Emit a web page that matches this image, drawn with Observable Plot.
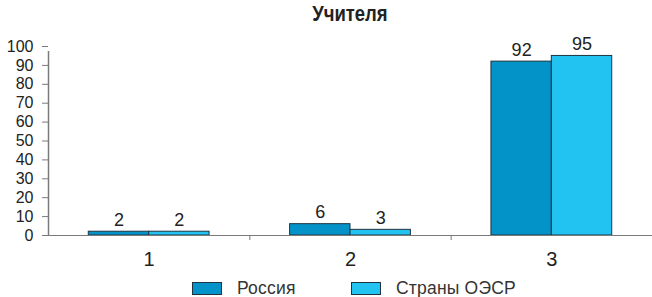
<!DOCTYPE html>
<html>
<head>
<meta charset="utf-8">
<script src="https://cdn.jsdelivr.net/npm/d3@7"></script>
<script src="https://cdn.jsdelivr.net/npm/@observablehq/plot@0.6"></script>
<style>
  html, body { margin: 0; padding: 0; background: #fff; }
  #wrap { position: relative; width: 652px; height: 297px; overflow: hidden; font-family: "Liberation Sans", Arial, sans-serif; }
  #title { position: absolute; left: 0; top: 0; width: 700px; height: 36px; text-align: center; font-family: "Liberation Sans", sans-serif; font-weight: bold; font-size: 22px; line-height: 28px; color: #222; }
  #title span { display: inline-block; transform: scaleX(0.84); transform-origin: center; }
  #chart { position: absolute; left: 0; top: 36px; }
  #legend { position: absolute; left: 0; top: 272px; width: 652px; height: 25px; }
  .sw { position: absolute; top: 10px; width: 28px; height: 11px; border: 1px solid #1f3440; }
  .lt { position: absolute; top: 6px; font-size: 17.5px; line-height: 20px; color: #333; letter-spacing: 0.2px; }
</style>
</head>
<body>
<div id="wrap">
  <div id="title"><span></span></div>
  <div id="chart"></div>
  <div id="legend"></div>
</div>
<script>
const title = "Учителя";
const groups = [1, 2, 3];
const seriesNames = ["Россия", "Страны ОЭСР"];
const seriesColors = ["#0493c9", "#22c3f1"];
const russia = [2, 6, 92];
const oecd = [2, 3, 95];
const yTicks = [0, 10, 20, 30, 40, 50, 60, 70, 80, 90, 100];

const rows = [];
groups.forEach((g, i) => {
  rows.push({group: g, series: seriesNames[0], value: russia[i], k: 0});
  rows.push({group: g, series: seriesNames[1], value: oecd[i], k: 1});
});
const bw = 0.3; // bar width in group units

document.querySelector("#title span").textContent = title;

const axisColor = "#7a7a7a";

const chart = Plot.plot({
  width: 652,
  height: 236,
  marginTop: 10,
  marginBottom: 37,
  marginLeft: 48,
  marginRight: 0,
  style: {fontFamily: "'Liberation Sans', Arial, sans-serif", background: "#fff", overflow: "visible"},
  x: {type: "linear", domain: [0.5, 3.5]},
  y: {domain: [0, 100]},
  color: {domain: seriesNames, range: seriesColors},
  marks: [
    Plot.rectY(rows, {
      x1: d => d.group - bw + d.k * bw,
      x2: d => d.group + d.k * bw,
      y1: 0,
      y2: "value",
      fill: "series",
      stroke: "#1f3440",
      strokeWidth: 1
    }),
    Plot.ruleY([0], {stroke: axisColor, strokeWidth: 1.2}),
    Plot.ruleX([0.5], {y1: 0, y2: 100, stroke: axisColor, strokeWidth: 1.5, insetBottom: -5}),
    Plot.axisY({ticks: yTicks, tickSize: 6, tickPadding: 9, fontSize: 16, stroke: axisColor, color: "#222", label: null}),
    Plot.axisX({ticks: [1.5, 2.5], tickSize: 5, tickFormat: () => "", stroke: axisColor, label: null}),
    Plot.axisX({ticks: groups, tickSize: 0, tickPadding: 16, fontSize: 20, tickFormat: d => String(d), color: "#222", label: null}),
    Plot.text(rows, {
      x: d => d.group - bw / 2 + d.k * bw,
      y: "value",
      text: d => String(d.value),
      lineAnchor: "bottom",
      dy: -6,
      fontSize: 18,
      fill: "#222"
    })
  ]
});
document.getElementById("chart").appendChild(chart);

const legend = document.getElementById("legend");
const swX = [192, 351];
const txX = [237, 396];
seriesNames.forEach((name, i) => {
  const sw = document.createElement("div");
  sw.className = "sw";
  sw.style.left = swX[i] + "px";
  sw.style.background = seriesColors[i];
  legend.appendChild(sw);
  const t = document.createElement("div");
  t.className = "lt";
  t.style.left = txX[i] + "px";
  t.textContent = name;
  legend.appendChild(t);
});
</script>
</body>
</html>
